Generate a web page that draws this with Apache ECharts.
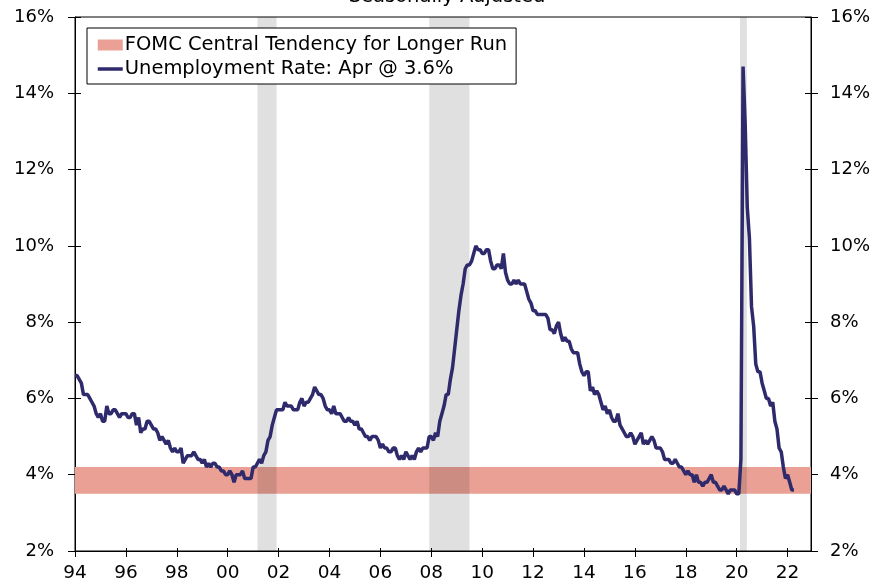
<!DOCTYPE html>
<html>
<head>
<meta charset="utf-8">
<script src="https://cdn.jsdelivr.net/npm/echarts@6/dist/echarts.min.js"></script>
<style>
  html, body { margin: 0; padding: 0; background: #fff; }
  #chart { width: 877px; height: 586px; }
</style>
</head>
<body>
<div id="chart"></div>
<script>
// monthly unemployment rate, seasonally adjusted, starting Jan 1994
var startYear = 1994;
var unemploymentRate = [
  6.6, 6.6, 6.5, 6.4, 6.1, 6.1, 6.1, 6.0, 5.9, 5.8, 5.6, 5.5,   // 1994
  5.6, 5.4, 5.4, 5.8, 5.6, 5.6, 5.7, 5.7, 5.6, 5.5, 5.6, 5.6,   // 1995
  5.6, 5.5, 5.5, 5.6, 5.6, 5.3, 5.5, 5.1, 5.2, 5.2, 5.4, 5.4,   // 1996
  5.3, 5.2, 5.2, 5.1, 4.9, 5.0, 4.9, 4.8, 4.9, 4.7, 4.6, 4.7,   // 1997
  4.6, 4.6, 4.7, 4.3, 4.4, 4.5, 4.5, 4.5, 4.6, 4.5, 4.4, 4.4,   // 1998
  4.3, 4.4, 4.2, 4.3, 4.2, 4.3, 4.3, 4.2, 4.2, 4.1, 4.1, 4.0,   // 1999
  4.0, 4.1, 4.0, 3.8, 4.0, 4.0, 4.0, 4.1, 3.9, 3.9, 3.9, 3.9,   // 2000
  4.2, 4.2, 4.3, 4.4, 4.3, 4.5, 4.6, 4.9, 5.0, 5.3, 5.5, 5.7,   // 2001
  5.7, 5.7, 5.7, 5.9, 5.8, 5.8, 5.8, 5.7, 5.7, 5.7, 5.9, 6.0,   // 2002
  5.8, 5.9, 5.9, 6.0, 6.1, 6.3, 6.2, 6.1, 6.1, 6.0, 5.8, 5.7,   // 2003
  5.7, 5.6, 5.8, 5.6, 5.6, 5.6, 5.5, 5.4, 5.4, 5.5, 5.4, 5.4,   // 2004
  5.3, 5.4, 5.2, 5.2, 5.1, 5.0, 5.0, 4.9, 5.0, 5.0, 5.0, 4.9,   // 2005
  4.7, 4.8, 4.7, 4.7, 4.6, 4.6, 4.7, 4.7, 4.5, 4.4, 4.5, 4.4,   // 2006
  4.6, 4.5, 4.4, 4.5, 4.4, 4.6, 4.7, 4.6, 4.7, 4.7, 4.7, 5.0,   // 2007
  5.0, 4.9, 5.1, 5.0, 5.4, 5.6, 5.8, 6.1, 6.1, 6.5, 6.8, 7.3,   // 2008
  7.8, 8.3, 8.7, 9.0, 9.4, 9.5, 9.5, 9.6, 9.8, 10.0, 9.9, 9.9,  // 2009
  9.8, 9.8, 9.9, 9.9, 9.6, 9.4, 9.4, 9.5, 9.5, 9.4, 9.8, 9.3,   // 2010
  9.1, 9.0, 9.0, 9.1, 9.0, 9.1, 9.0, 9.0, 9.0, 8.8, 8.6, 8.5,   // 2011
  8.3, 8.3, 8.2, 8.2, 8.2, 8.2, 8.2, 8.1, 7.8, 7.8, 7.7, 7.9,   // 2012
  8.0, 7.7, 7.5, 7.6, 7.5, 7.5, 7.3, 7.2, 7.2, 7.2, 6.9, 6.7,   // 2013
  6.6, 6.7, 6.7, 6.2, 6.3, 6.1, 6.2, 6.1, 5.9, 5.7, 5.8, 5.6,   // 2014
  5.7, 5.5, 5.4, 5.4, 5.6, 5.3, 5.2, 5.1, 5.0, 5.0, 5.1, 5.0,   // 2015
  4.8, 4.9, 5.0, 5.1, 4.8, 4.9, 4.8, 4.9, 5.0, 4.9, 4.7, 4.7,   // 2016
  4.7, 4.6, 4.4, 4.4, 4.4, 4.3, 4.3, 4.4, 4.3, 4.2, 4.2, 4.1,   // 2017
  4.0, 4.1, 4.0, 4.0, 3.8, 4.0, 3.8, 3.8, 3.7, 3.8, 3.8, 3.9,   // 2018
  4.0, 3.8, 3.8, 3.7, 3.6, 3.6, 3.7, 3.6, 3.5, 3.6, 3.6, 3.6,   // 2019
  3.5, 3.5, 4.4, 14.7, 13.2, 11.0, 10.2, 8.4, 7.9, 6.9, 6.7, 6.7, // 2020
  6.4, 6.2, 6.0, 6.0, 5.8, 5.9, 5.4, 5.2, 4.7, 4.6, 4.2, 3.9,   // 2021
  4.0, 3.8, 3.6, 3.6                                            // 2022
];

// FOMC longer-run central tendency (low, high)
var fomcBand = [3.5, 4.2];

// recession periods in decimal years
var recessions = [
  [2001.17, 2001.92],
  [2007.92, 2009.5],
  [2020.13, 2020.4]
];

var xMin = 1994, xMax = 2022.92, yMin = 2, yMax = 16;
var bandName = 'FOMC Central Tendency for Longer Run';
var lineName = 'Unemployment Rate: Apr @ 3.6%';
var font = 'DejaVu Sans';

var lineData = unemploymentRate.map(function (v, i) {
  return [startYear + i / 12, v];
});

var chart = echarts.init(document.getElementById('chart'));

var yBase = {
  type: 'value', min: yMin, max: yMax, interval: 2,
  splitLine: { show: false },
  axisLine: { show: true, lineStyle: { color: '#000', width: 1 } }
};

chart.setOption({
  animation: false,
  title: {
    text: 'Seasonally Adjusted',
    left: 442,
    textAlign: 'center',
    top: -18,
    textStyle: { fontFamily: font, fontSize: 19.5, fontWeight: 'normal', color: '#000' }
  },
  grid: {
    left: 75, right: 66, top: 17, bottom: 35,
    show: true, borderColor: '#000', borderWidth: 1
  },
  legend: {
    data: [
      { name: bandName, icon: 'rect' },
      { name: lineName, itemStyle: { opacity: 0 }, lineStyle: { width: 3.5 } }
    ],
    orient: 'vertical',
    left: 87, top: 28,
    padding: [7, 9, 5, 9],
    itemGap: 4,
    itemWidth: 25, itemHeight: 11,
    borderColor: '#000', borderWidth: 1,
    backgroundColor: '#fff',
    textStyle: { fontFamily: font, fontSize: 19.5, color: '#000', padding: [0, 0, 0, -3] }
  },
  xAxis: [{
    type: 'value', min: xMin, max: xMax, interval: 2,
    splitLine: { show: false },
    axisLine: { show: true, lineStyle: { color: '#000' } },
    axisTick: { show: true, length: 6, lineStyle: { color: '#000' } },
    axisLabel: {
      showMaxLabel: false, margin: 13,
      fontFamily: font, fontSize: 18.5, color: '#000',
      formatter: function (v) { return String(Math.round(v) % 100).padStart(2, '0'); }
    }
  }, {
    type: 'value', min: xMin, max: xMax, interval: 2, position: 'bottom',
    splitLine: { show: false },
    axisLine: { show: false },
    axisTick: { show: true, inside: true, length: 3, lineStyle: { color: '#000' } },
    axisLabel: { show: false }
  }],
  yAxis: [
    Object.assign({}, yBase, {
      position: 'left',
      axisTick: { show: true, length: 7, lineStyle: { color: '#000' } },
      axisLabel: { margin: 21, fontFamily: font, fontSize: 18, color: '#000', formatter: '{value}%' }
    }),
    Object.assign({}, yBase, {
      position: 'right',
      axisTick: { show: true, length: 7, lineStyle: { color: '#000' } },
      axisLabel: { margin: 19, fontFamily: font, fontSize: 18, color: '#000', formatter: '{value}%' }
    }),
    Object.assign({}, yBase, {
      position: 'left', axisLine: { show: false },
      axisTick: { show: true, inside: true, length: 6, lineStyle: { color: '#000' } },
      axisLabel: { show: false }
    }),
    Object.assign({}, yBase, {
      position: 'right', axisLine: { show: false },
      axisTick: { show: true, inside: true, length: 6, lineStyle: { color: '#000' } },
      axisLabel: { show: false }
    })
  ],
  series: [
    {
      name: bandName,
      type: 'line',
      data: [],
      color: '#eaa094',
      symbol: 'none',
      z: 1,
      markArea: {
        silent: true,
        itemStyle: { color: '#eaa094' },
        data: [[{ yAxis: fomcBand[0] }, { yAxis: fomcBand[1] }]]
      }
    },
    {
      name: 'recessions',
      type: 'line',
      data: [],
      symbol: 'none',
      z: 2,
      markArea: {
        silent: true,
        itemStyle: { color: 'rgba(0,0,0,0.12)' },
        data: recessions.map(function (r) { return [{ xAxis: r[0] }, { xAxis: r[1] }]; })
      }
    },
    {
      name: lineName,
      type: 'line',
      data: lineData,
      color: '#2e2a6b',
      symbol: 'none',
      z: 3,
      lineStyle: { width: 3.5, color: '#2e2a6b' }
    }
  ]
});
</script>
</body>
</html>
